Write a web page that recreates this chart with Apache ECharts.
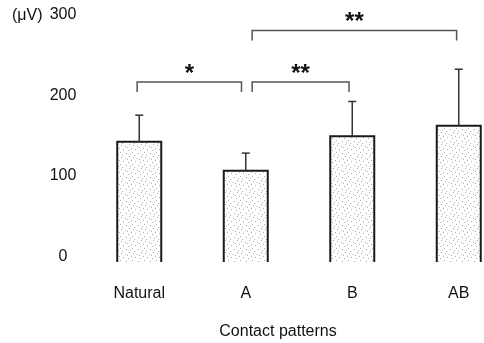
<!DOCTYPE html>
<html>
<head>
<meta charset="utf-8">
<script src="https://cdn.jsdelivr.net/npm/echarts@6/dist/echarts.min.js"></script>
<style>
  html, body { margin: 0; padding: 0; background: #fff; }
  #chart { width: 484px; height: 343px; }
</style>
</head>
<body>
<div id="chart"></div>
<script>
const categories = ['Natural', 'A', 'B', 'AB']
const means = [149, 113, 156, 169]
const sd = [33, 22, 43, 70]
const yTicks = [0, 100, 200, 300]
// significance brackets: [from category, to category, level (µV), mark]
const brackets = [
  [-0.02, 0.96, 223, '*'],
  [1.06, 1.97, 223, '**'],
  [1.06, 2.98, 287, '**']
]

const BAR_W = 44

// stipple texture for the bars
function stipple() {
  const c = document.createElement('canvas')
  c.width = 12
  c.height = 12
  const ctx = c.getContext('2d')
  ctx.fillStyle = '#fff'
  ctx.fillRect(0, 0, 12, 12)
  ctx.fillStyle = '#ababab'
  const dots = [[1, 1], [5, 2], [9, 0], [3, 5], [8, 6], [11, 4], [0, 8], [6, 9], [10, 10], [2, 11], [7, 3]]
  dots.forEach(d => ctx.fillRect(d[0], d[1], 1, 1))
  return c
}

const chart = echarts.init(document.getElementById('chart'))

chart.setOption({
  animation: false,
  textStyle: { fontFamily: 'Liberation Sans, Arial, sans-serif' },
  // plot area runs past the right edge, as in the original figure
  grid: { left: 86, width: 426, top: 20, bottom: 81, outerBoundsMode: 'none', containLabel: false },
  xAxis: {
    type: 'category',
    data: categories,
    axisLine: { show: false },
    axisTick: { show: false },
    axisLabel: { fontSize: 16, color: '#111', margin: 24 },
    name: 'Contact patterns',
    nameLocation: 'middle',
    nameGap: 62,
    nameTextStyle: { fontSize: 16, color: '#111', padding: [0, 42, 0, 0] }
  },
  yAxis: {
    type: 'value',
    min: yTicks[0],
    max: yTicks[yTicks.length - 1],
    interval: 100,
    axisLine: { show: false },
    axisTick: { show: false },
    splitLine: { show: false },
    axisLabel: { fontSize: 16, color: '#111', align: 'center', margin: 23, verticalAlign: 'bottom', lineHeight: 11 }
  },
  graphic: [{
    type: 'text',
    left: 12,
    top: 8,
    style: { text: '(μV)', fontSize: 16, fill: '#111', fontFamily: 'Liberation Sans, Arial, sans-serif' }
  }],
  series: [
    {
      type: 'bar',
      data: means,
      barWidth: BAR_W,
      itemStyle: { color: { image: stipple(), repeat: 'repeat' } }
    },
    {
      // outline (left, top, right) and upper error bar
      type: 'custom',
      data: means.map((m, i) => [i, m, m + sd[i]]),
      encode: { x: 0, y: 1 },
      z: 3,
      renderItem(params, api) {
        const base = api.coord([api.value(0), 0])
        const top = api.coord([api.value(0), api.value(1)])
        const err = api.coord([api.value(0), api.value(2)])
        const x = top[0]
        const h = BAR_W / 2
        return {
          type: 'group',
          children: [
            {
              type: 'polyline',
              shape: { points: [[x - h, base[1]], [x - h, top[1]], [x + h, top[1]], [x + h, base[1]]] },
              style: { stroke: '#1a1a1a', lineWidth: 2, fill: null }
            },
            {
              type: 'line',
              shape: { x1: x, y1: top[1], x2: x, y2: err[1] },
              style: { stroke: '#333', lineWidth: 1.5 }
            },
            {
              type: 'line',
              shape: { x1: x - 4, y1: err[1], x2: x + 4, y2: err[1] },
              style: { stroke: '#333', lineWidth: 1.5 }
            }
          ]
        }
      }
    },
    {
      type: 'custom',
      data: brackets.map(b => [b[0], b[2], b[1]]),
      encode: { x: 0, y: 1 },
      z: 3,
      renderItem(params, api) {
        const band = api.size([1, 0])[0]
        const origin = api.coord([0, api.value(1)])
        const x1 = origin[0] + api.value(0) * band
        const x2 = origin[0] + api.value(2) * band
        const y = origin[1]
        return {
          type: 'group',
          children: [
            {
              type: 'polyline',
              shape: { points: [[x1, y + 10], [x1, y], [x2, y], [x2, y + 10]] },
              style: { stroke: '#555', lineWidth: 1.5, fill: null }
            },
            {
              type: 'text',
              style: {
                text: brackets[params.dataIndex][3],
                x: (x1 + x2) / 2,
                y: y + 4,
                align: 'center',
                verticalAlign: 'bottom',
                fontSize: 24,
                fontWeight: 'bold',
                fill: '#111',
                fontFamily: 'Liberation Sans, Arial, sans-serif'
              }
            }
          ]
        }
      }
    }
  ]
})
</script>
</body>
</html>
